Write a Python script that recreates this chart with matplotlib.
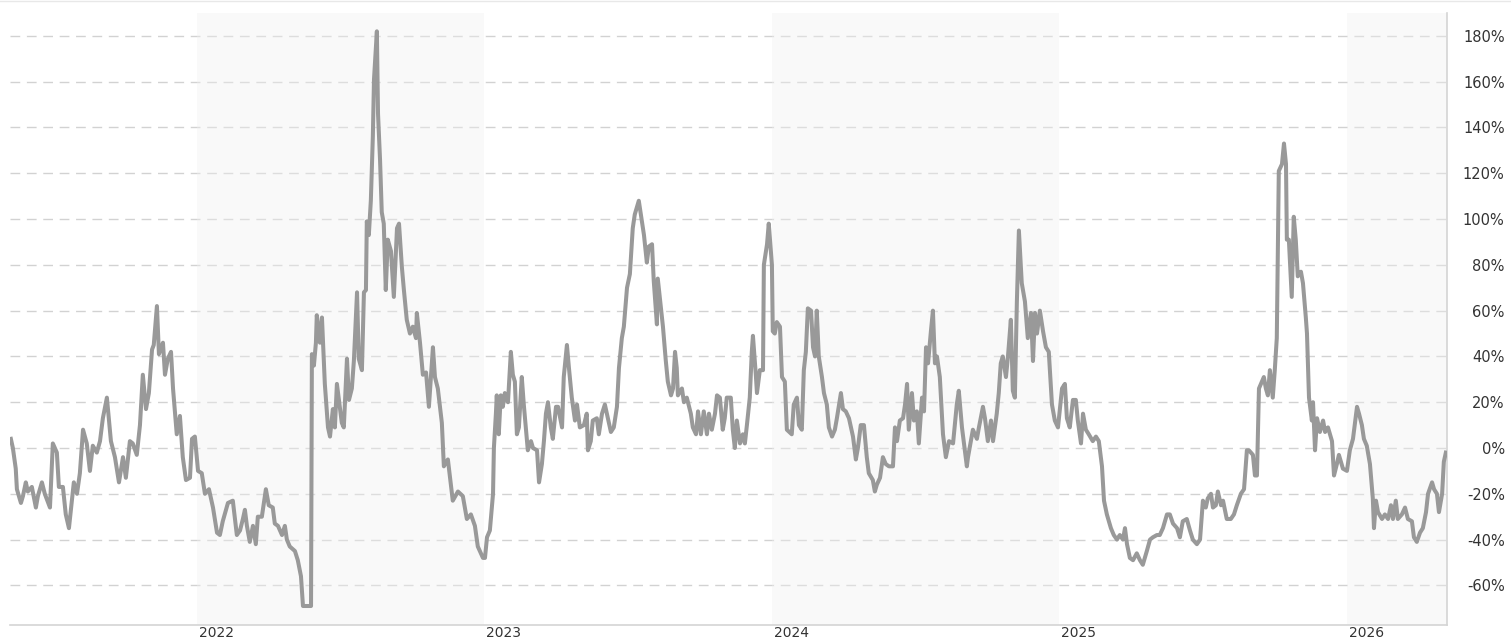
import matplotlib
matplotlib.use("Agg")
import matplotlib.pyplot as plt
from matplotlib.lines import Line2D

# ---------------- data (decimal year, % change) ----------------
years_a = [2021.346, 2021.353, 2021.363, 2021.367, 2021.381, 2021.388, 2021.398, 2021.405, 2021.419, 2021.433,
           2021.440, 2021.454, 2021.464, 2021.482, 2021.492, 2021.506, 2021.513, 2021.527, 2021.537, 2021.548,
           2021.558, 2021.565, 2021.576, 2021.586, 2021.597, 2021.610, 2021.621, 2021.631, 2021.645, 2021.656,
           2021.666, 2021.680, 2021.694, 2021.708, 2021.722, 2021.736, 2021.746, 2021.760, 2021.770, 2021.784,
           2021.795, 2021.805, 2021.816, 2021.826, 2021.837, 2021.843, 2021.854, 2021.861, 2021.875, 2021.882,
           2021.892, 2021.903, 2021.910, 2021.923, 2021.934, 2021.944, 2021.955, 2021.969, 2021.976, 2021.986,
           2021.997, 2022.010, 2022.021, 2022.035, 2022.049, 2022.063, 2022.073, 2022.083, 2022.101, 2022.118,
           2022.132]
pct_a = [4, 0, -9, -18, -24, -21, -15, -19, -17, -26,
         -21, -15, -20, -26, 2, -2, -17, -17, -29, -35,
         -23, -15, -20, -11, 8, 2, -10, 1, -2, 3,
         13, 22, 3, -4, -15, -4, -13, 3, 2, -3,
         10, 32, 17, 24, 43, 45, 62, 41, 46, 32,
         39, 42, 26, 6, 14, -4, -14, -13, 4, 5,
         -10, -11, -20, -18, -26, -37, -38, -32, -24, -23,
         -38]

years_b = [2022.143, 2022.153, 2022.160, 2022.167, 2022.177, 2022.188, 2022.198, 2022.205, 2022.219, 2022.226,
           2022.233, 2022.243, 2022.257, 2022.264, 2022.275, 2022.289, 2022.299, 2022.306, 2022.316, 2022.334,
           2022.344, 2022.355, 2022.362, 2022.376, 2022.390, 2022.393, 2022.400, 2022.407, 2022.410, 2022.421,
           2022.428, 2022.438, 2022.449, 2022.456, 2022.466, 2022.473, 2022.480, 2022.487, 2022.497, 2022.504,
           2022.515, 2022.522, 2022.532, 2022.539, 2022.550, 2022.556, 2022.567, 2022.574, 2022.581, 2022.584,
           2022.591, 2022.598, 2022.605, 2022.609, 2022.619, 2022.623, 2022.630, 2022.636, 2022.643, 2022.650,
           2022.657, 2022.668, 2022.678, 2022.689, 2022.696, 2022.706, 2022.713, 2022.723, 2022.734, 2022.744,
           2022.755, 2022.758, 2022.769, 2022.779, 2022.790, 2022.800, 2022.814, 2022.821, 2022.831, 2022.845,
           2022.852, 2022.866, 2022.883, 2022.901, 2022.918, 2022.932, 2022.946, 2022.960, 2022.970, 2022.988]
pct_b = [-36, -31, -27, -34, -41, -34, -42, -30, -30, -24,
         -18, -25, -26, -33, -34, -38, -34, -40, -43, -45,
         -49, -56, -69, -69, -69, 41, 36, 46, 58, 46,
         57, 28, 9, 5, 17, 9, 28, 21, 11, 9,
         39, 21, 26, 38, 68, 39, 34, 68, 69, 99,
         93, 108, 136, 161, 182, 146, 126, 103, 98, 69,
         91, 86, 66, 96, 98, 79, 69, 56, 50, 53,
         48, 59, 46, 32, 33, 18, 44, 31, 26, 11,
         -8, -5, -23, -19, -21, -31, -29, -34, -43, -48]

years_c = [2022.995, 2023.002, 2023.012, 2023.023, 2023.026, 2023.033, 2023.036, 2023.043, 2023.050, 2023.057,
           2023.064, 2023.075, 2023.085, 2023.092, 2023.099, 2023.106, 2023.113, 2023.123, 2023.130, 2023.137,
           2023.144, 2023.155, 2023.162, 2023.176, 2023.183, 2023.193, 2023.200, 2023.207, 2023.214, 2023.224,
           2023.231, 2023.242, 2023.249, 2023.263, 2023.269, 2023.280, 2023.287, 2023.297, 2023.308, 2023.315,
           2023.325, 2023.339, 2023.349, 2023.353, 2023.363, 2023.370, 2023.384, 2023.391, 2023.402, 2023.412,
           2023.419, 2023.433, 2023.443, 2023.454, 2023.461, 2023.471, 2023.478, 2023.489, 2023.499, 2023.509,
           2023.516, 2023.523, 2023.530, 2023.541, 2023.548, 2023.558, 2023.565, 2023.576, 2023.582, 2023.593,
           2023.596, 2023.607, 2023.614, 2023.624, 2023.631, 2023.642, 2023.649, 2023.656, 2023.662, 2023.666,
           2023.680, 2023.687, 2023.697, 2023.711, 2023.718, 2023.729, 2023.736, 2023.746, 2023.756, 2023.767,
           2023.774, 2023.784, 2023.795, 2023.802, 2023.812]
pct_c = [-48, -39, -36, -20, 0, 15, 23, 6, 23, 18,
         24, 20, 42, 32, 29, 6, 9, 31, 19, 9,
         -1, 3, 0, -1, -15, -7, 3, 15, 20, 9,
         4, 18, 18, 9, 31, 45, 35, 22, 12, 19,
         9, 10, 15, -1, 3, 12, 13, 6, 15, 19,
         15, 7, 9, 18, 35, 48, 53, 70, 76, 96,
         102, 105, 108, 99, 93, 81, 88, 89, 73, 54,
         74, 61, 53, 38, 29, 23, 26, 42, 35, 23,
         26, 20, 22, 15, 9, 6, 16, 6, 16, 6,
         15, 8, 15, 23, 22]

years_d = [2023.822, 2023.829, 2023.836, 2023.850, 2023.857, 2023.864, 2023.871, 2023.882, 2023.892, 2023.899,
           2023.906, 2023.916, 2023.923, 2023.927, 2023.937, 2023.941, 2023.951, 2023.962, 2023.965, 2023.976,
           2023.982, 2023.993, 2023.996, 2024.003, 2024.010, 2024.021, 2024.028, 2024.038, 2024.045, 2024.062,
           2024.069, 2024.080, 2024.087, 2024.097, 2024.104, 2024.111, 2024.118, 2024.129, 2024.136, 2024.143,
           2024.149, 2024.156, 2024.167, 2024.174, 2024.184, 2024.191, 2024.202, 2024.212, 2024.219, 2024.233,
           2024.240, 2024.250, 2024.261, 2024.275, 2024.285, 2024.292, 2024.302, 2024.313, 2024.323, 2024.330,
           2024.344, 2024.351, 2024.358, 2024.369, 2024.379, 2024.389, 2024.400, 2024.414, 2024.421, 2024.428,
           2024.438, 2024.449, 2024.456, 2024.463, 2024.469, 2024.480, 2024.487, 2024.497, 2024.504, 2024.515,
           2024.522, 2024.529, 2024.536, 2024.546, 2024.553, 2024.560, 2024.567, 2024.577, 2024.588, 2024.598,
           2024.609, 2024.623, 2024.636, 2024.643, 2024.654]
pct_d = [8, 13, 22, 22, 8, 0, 12, 2, 6, 2,
         10, 22, 42, 49, 32, 24, 34, 34, 80, 89,
         98, 80, 51, 50, 55, 53, 31, 29, 8, 6,
         19, 22, 10, 8, 34, 42, 61, 60, 44, 40,
         60, 40, 31, 24, 19, 9, 5, 8, 13, 24,
         17, 16, 13, 5, -5, 0, 10, 10, -4, -11,
         -14, -19, -16, -13, -4, -7, -8, -8, 9, 3,
         12, 13, 19, 28, 8, 24, 12, 16, 2, 22,
         16, 44, 37, 51, 60, 37, 40, 31, 6, -4,
         3, 2, 19, 25, 9]

years_e = [2024.671, 2024.675, 2024.685, 2024.692, 2024.706, 2024.713, 2024.727, 2024.734, 2024.744, 2024.755,
           2024.762, 2024.775, 2024.782, 2024.789, 2024.796, 2024.807, 2024.814, 2024.824, 2024.831, 2024.838,
           2024.845, 2024.852, 2024.862, 2024.873, 2024.883, 2024.894, 2024.901, 2024.908, 2024.915, 2024.925,
           2024.936, 2024.946, 2024.956, 2024.967, 2024.977, 2024.988, 2025.002, 2025.012, 2025.019, 2025.029,
           2025.040, 2025.050, 2025.057, 2025.068, 2025.075, 2025.085, 2025.095, 2025.109, 2025.120, 2025.130,
           2025.141, 2025.148, 2025.158, 2025.172, 2025.182, 2025.193, 2025.203, 2025.214, 2025.221, 2025.228,
           2025.238, 2025.249, 2025.262, 2025.273, 2025.283, 2025.297, 2025.308, 2025.318, 2025.332, 2025.342,
           2025.353, 2025.367, 2025.377, 2025.388, 2025.402, 2025.412, 2025.422, 2025.436, 2025.447, 2025.457,
           2025.471, 2025.482]
pct_e = [-8, -4, 3, 8, 4, 9, 18, 13, 3, 12,
         3, 15, 24, 37, 40, 31, 40, 56, 25, 22,
         64, 95, 72, 64, 48, 59, 38, 59, 50, 60,
         51, 44, 42, 19, 12, 9, 26, 28, 13, 9,
         21, 21, 12, 2, 15, 8, 6, 3, 5, 3,
         -8, -23, -29, -35, -38, -40, -38, -40, -35, -42,
         -48, -49, -46, -49, -51, -45, -40, -39, -38, -38,
         -35, -29, -29, -33, -35, -39, -32, -31, -36, -40,
         -42, -40]

years_f = [2025.492, 2025.502, 2025.509, 2025.520, 2025.527, 2025.537, 2025.544, 2025.555, 2025.562, 2025.575,
           2025.589, 2025.600, 2025.610, 2025.624, 2025.635, 2025.645, 2025.652, 2025.666, 2025.673, 2025.680,
           2025.687, 2025.697, 2025.704, 2025.711, 2025.718, 2025.725, 2025.735, 2025.742, 2025.749, 2025.756,
           2025.767, 2025.774, 2025.781, 2025.784, 2025.791, 2025.801, 2025.808, 2025.815, 2025.822, 2025.833,
           2025.840, 2025.850, 2025.854, 2025.861, 2025.871, 2025.875, 2025.882, 2025.889, 2025.899, 2025.910,
           2025.917, 2025.927, 2025.941, 2025.948, 2025.958, 2025.965, 2025.979, 2025.993, 2026.003, 2026.014,
           2026.028, 2026.035, 2026.045, 2026.052, 2026.062, 2026.073, 2026.083, 2026.087, 2026.094, 2026.101,
           2026.115, 2026.125, 2026.136, 2026.146, 2026.153, 2026.163, 2026.170, 2026.184, 2026.195, 2026.205,
           2026.219, 2026.226, 2026.236, 2026.247, 2026.257, 2026.268, 2026.275, 2026.289, 2026.296, 2026.306,
           2026.313, 2026.324, 2026.330, 2026.337]
pct_f = [-23, -26, -22, -20, -26, -25, -19, -25, -23, -31,
         -31, -29, -25, -20, -18, -1, -1, -3, -12, -12,
         26, 29, 31, 26, 23, 34, 22, 34, 48, 121,
         124, 133, 124, 91, 91, 66, 101, 91, 75, 77,
         72, 57, 50, 22, 12, 20, -1, 13, 7, 12,
         7, 9, 3, -12, -7, -3, -9, -10, -1, 4,
         18, 15, 10, 4, 1, -7, -22, -35, -23, -28,
         -31, -29, -31, -25, -31, -23, -31, -29, -26, -31,
         -32, -39, -41, -37, -35, -28, -20, -15, -18, -20,
         -28, -20, -6, -2]

tick_years = [2022, 2023, 2024, 2025, 2026]
tick_labels = ["2022", "2023", "2024", "2025", "2026"]
y_ticks = [-60, -40, -20, 0, 20, 40, 60, 80, 100, 120, 140, 160, 180]
shaded_years = [2022, 2024, 2026]

# ---------------- assemble series ----------------
xs, ys = [], []
for t, v in [(years_a, pct_a), (years_b, pct_b), (years_c, pct_c),
             (years_d, pct_d), (years_e, pct_e), (years_f, pct_f)]:
    n = min(len(t), len(v))
    xs.extend(t[:n])
    ys.extend(v[:n])

W, H = 1511, 639
fig = plt.figure(figsize=(W / 100, H / 100), dpi=100)
ax = fig.add_axes([10 / W, 1 - 625 / H, (1447 - 10) / W, (625 - 13) / H])

x_min, x_max = 2021.343, 2026.341
ax.set_xlim(x_min, x_max)
ax.set_ylim(-77.3, 190.0)

for y0 in shaded_years:
    ax.axvspan(y0 - 0.008, min(y0 + 0.992, x_max), facecolor="#f0f0f0", alpha=0.4, lw=0, zorder=1)

ax.plot(xs, ys, color="#999999", lw=2.9, zorder=3, solid_joinstyle="round")

ax.set_axisbelow(True)
ax.yaxis.grid(True, color="#d2d2d2", linewidth=1.0, linestyle=(0, (7.0, 4.8)))
ax.xaxis.grid(False)

ax.set_yticks(y_ticks)
ax.set_yticklabels([f"{v}%" for v in y_ticks])
ax.yaxis.tick_right()
ax.tick_params(axis="y", length=0, pad=41.5, labelsize=10.5, colors="#333333")
for lab in ax.get_yticklabels():
    lab.set_horizontalalignment("right")

ax.set_xticks(tick_years)
ax.set_xticklabels(tick_labels)
ax.tick_params(axis="x", length=0, pad=0.5, labelsize=10, colors="#333333")
for lab in ax.get_xticklabels():
    lab.set_horizontalalignment("left")

for s in ["top", "left"]:
    ax.spines[s].set_visible(False)
for s in ["right", "bottom"]:
    ax.spines[s].set_color("#d4d4d4")
    ax.spines[s].set_linewidth(1.2)

fig.add_artist(Line2D([0, 1], [1 - 1 / H, 1 - 1 / H], color="#e8e8e8", lw=1.0))

fig.savefig("out.png", dpi=100)
